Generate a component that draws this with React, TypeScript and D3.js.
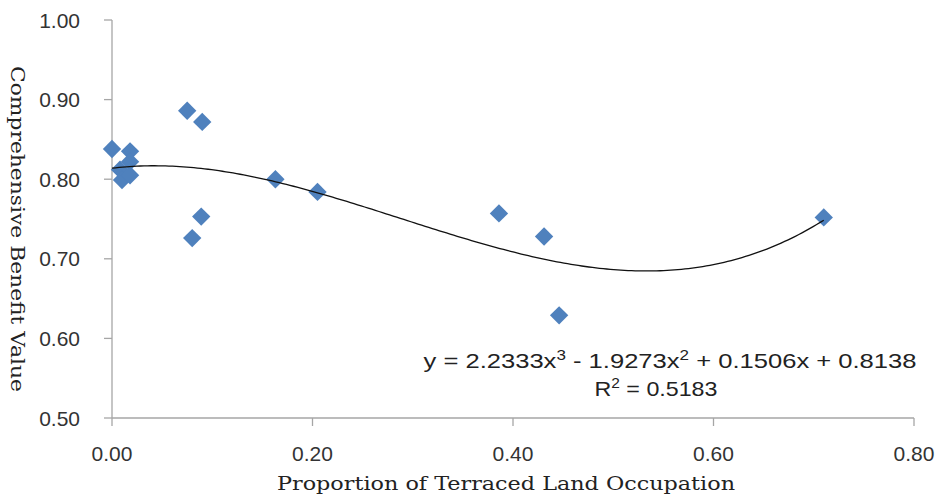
import React from "react";
import * as d3 from "d3";

// Proportion of terraced land occupation vs comprehensive benefit value
const proportion = [0.0, 0.018, 0.018, 0.008, 0.01, 0.018, 0.075, 0.09, 0.089, 0.08, 0.163, 0.205, 0.386, 0.431, 0.446, 0.71];
const benefit = [0.838, 0.835, 0.822, 0.812, 0.799, 0.805, 0.886, 0.872, 0.753, 0.726, 0.8, 0.784, 0.757, 0.728, 0.629, 0.752];

const xTicks = [0, 0.2, 0.4, 0.6, 0.8];
const yTicks = [0.5, 0.6, 0.7, 0.8, 0.9, 1.0];

// cubic trendline coefficients (as printed on the chart)
const coef = [2.2333, -1.9273, 0.1506, 0.8138];

const W = 936;
const H = 494;
const axisColor = "#a6a6a6";
const markerColor = "#4f81bd";
const tickFont = "'Liberation Sans', Arial, sans-serif";
const titleFont = "'DejaVu Serif', serif";

export default function App() {
  const x = d3.scaleLinear().domain([0, 0.8]).range([112, 914]);
  const y = d3.scaleLinear().domain([0.5, 1.0]).range([418, 20]);

  const fit = (v: number) => coef[0] * v ** 3 + coef[1] * v ** 2 + coef[2] * v + coef[3];
  const xMax = d3.max(proportion) as number;
  const curvePts = d3.range(0, 201).map((i) => {
    const v = (xMax * i) / 200;
    return [v, fit(v)] as [number, number];
  });
  const line = d3
    .line<[number, number]>()
    .x((d) => x(d[0]))
    .y((d) => y(d[1]));

  const diamond = d3.symbol().type(d3.symbolDiamond2).size(215)();
  const fmt = d3.format(".2f");

  return (
    <svg width={W} height={H} style={{ position: "absolute", left: 0, top: 0, background: "#fff" }}>
      {/* y axis */}
      <line x1={x(0)} x2={x(0)} y1={y(1)} y2={y(0.5)} stroke={axisColor} strokeWidth={1.3} />
      {yTicks.map((t) => (
        <g key={"y" + t}>
          <line x1={x(0) - 8} x2={x(0)} y1={y(t)} y2={y(t)} stroke={axisColor} strokeWidth={1.3} />
          <text
            x={80}
            y={y(t)}
            dy="0.36em"
            textAnchor="end"
            fontFamily={tickFont}
            fontSize={21}
            fill="#333"
          >
            {fmt(t)}
          </text>
        </g>
      ))}
      {/* x axis */}
      <line x1={x(0)} x2={x(0.8)} y1={y(0.5)} y2={y(0.5)} stroke={axisColor} strokeWidth={1.3} />
      {xTicks.map((t) => (
        <g key={"x" + t}>
          <line x1={x(t)} x2={x(t)} y1={y(0.5)} y2={y(0.5) + 8} stroke={axisColor} strokeWidth={1.3} />
          <text
            x={x(t)}
            y={y(0.5) + 35}
            dy="0.36em"
            textAnchor="middle"
            fontFamily={tickFont}
            fontSize={21}
            fill="#333"
          >
            {fmt(t)}
          </text>
        </g>
      ))}

      {/* points */}
      {proportion.map((p, i) => (
        <path key={"p" + i} d={diamond as string} transform={`translate(${x(p)},${y(benefit[i])})`} fill={markerColor} />
      ))}

      {/* trendline */}
      <path d={line(curvePts) as string} fill="none" stroke="#111" strokeWidth={1.3} />

      {/* equation */}
      <text x={670} y={368} textAnchor="middle" fontFamily={tickFont} fontSize={21} fill="#222" textLength={493} lengthAdjust="spacingAndGlyphs">
        y = 2.2333x<tspan dy={-8} fontSize={14}>3</tspan>
        <tspan dy={8}> - 1.9273x</tspan>
        <tspan dy={-8} fontSize={14}>2</tspan>
        <tspan dy={8}> + 0.1506x + 0.8138</tspan>
      </text>
      <text x={656} y={396} textAnchor="middle" fontFamily={tickFont} fontSize={21} fill="#222" textLength={123} lengthAdjust="spacingAndGlyphs">
        R<tspan dy={-8} fontSize={14}>2</tspan>
        <tspan dy={8}> = 0.5183</tspan>
      </text>

      {/* axis titles */}
      <text
        x={506}
        y={490}
        textAnchor="middle"
        fontFamily={titleFont}
        fontSize={19}
        fill="#222"
        textLength={458}
        lengthAdjust="spacingAndGlyphs"
      >
        Proportion of Terraced Land Occupation
      </text>
      <text
        transform={`translate(11,229) rotate(90)`}
        textAnchor="middle"
        fontFamily={titleFont}
        fontSize={19}
        fill="#222"
        textLength={326}
        lengthAdjust="spacingAndGlyphs"
      >
        Comprehensive Benefit Value
      </text>
    </svg>
  );
}
